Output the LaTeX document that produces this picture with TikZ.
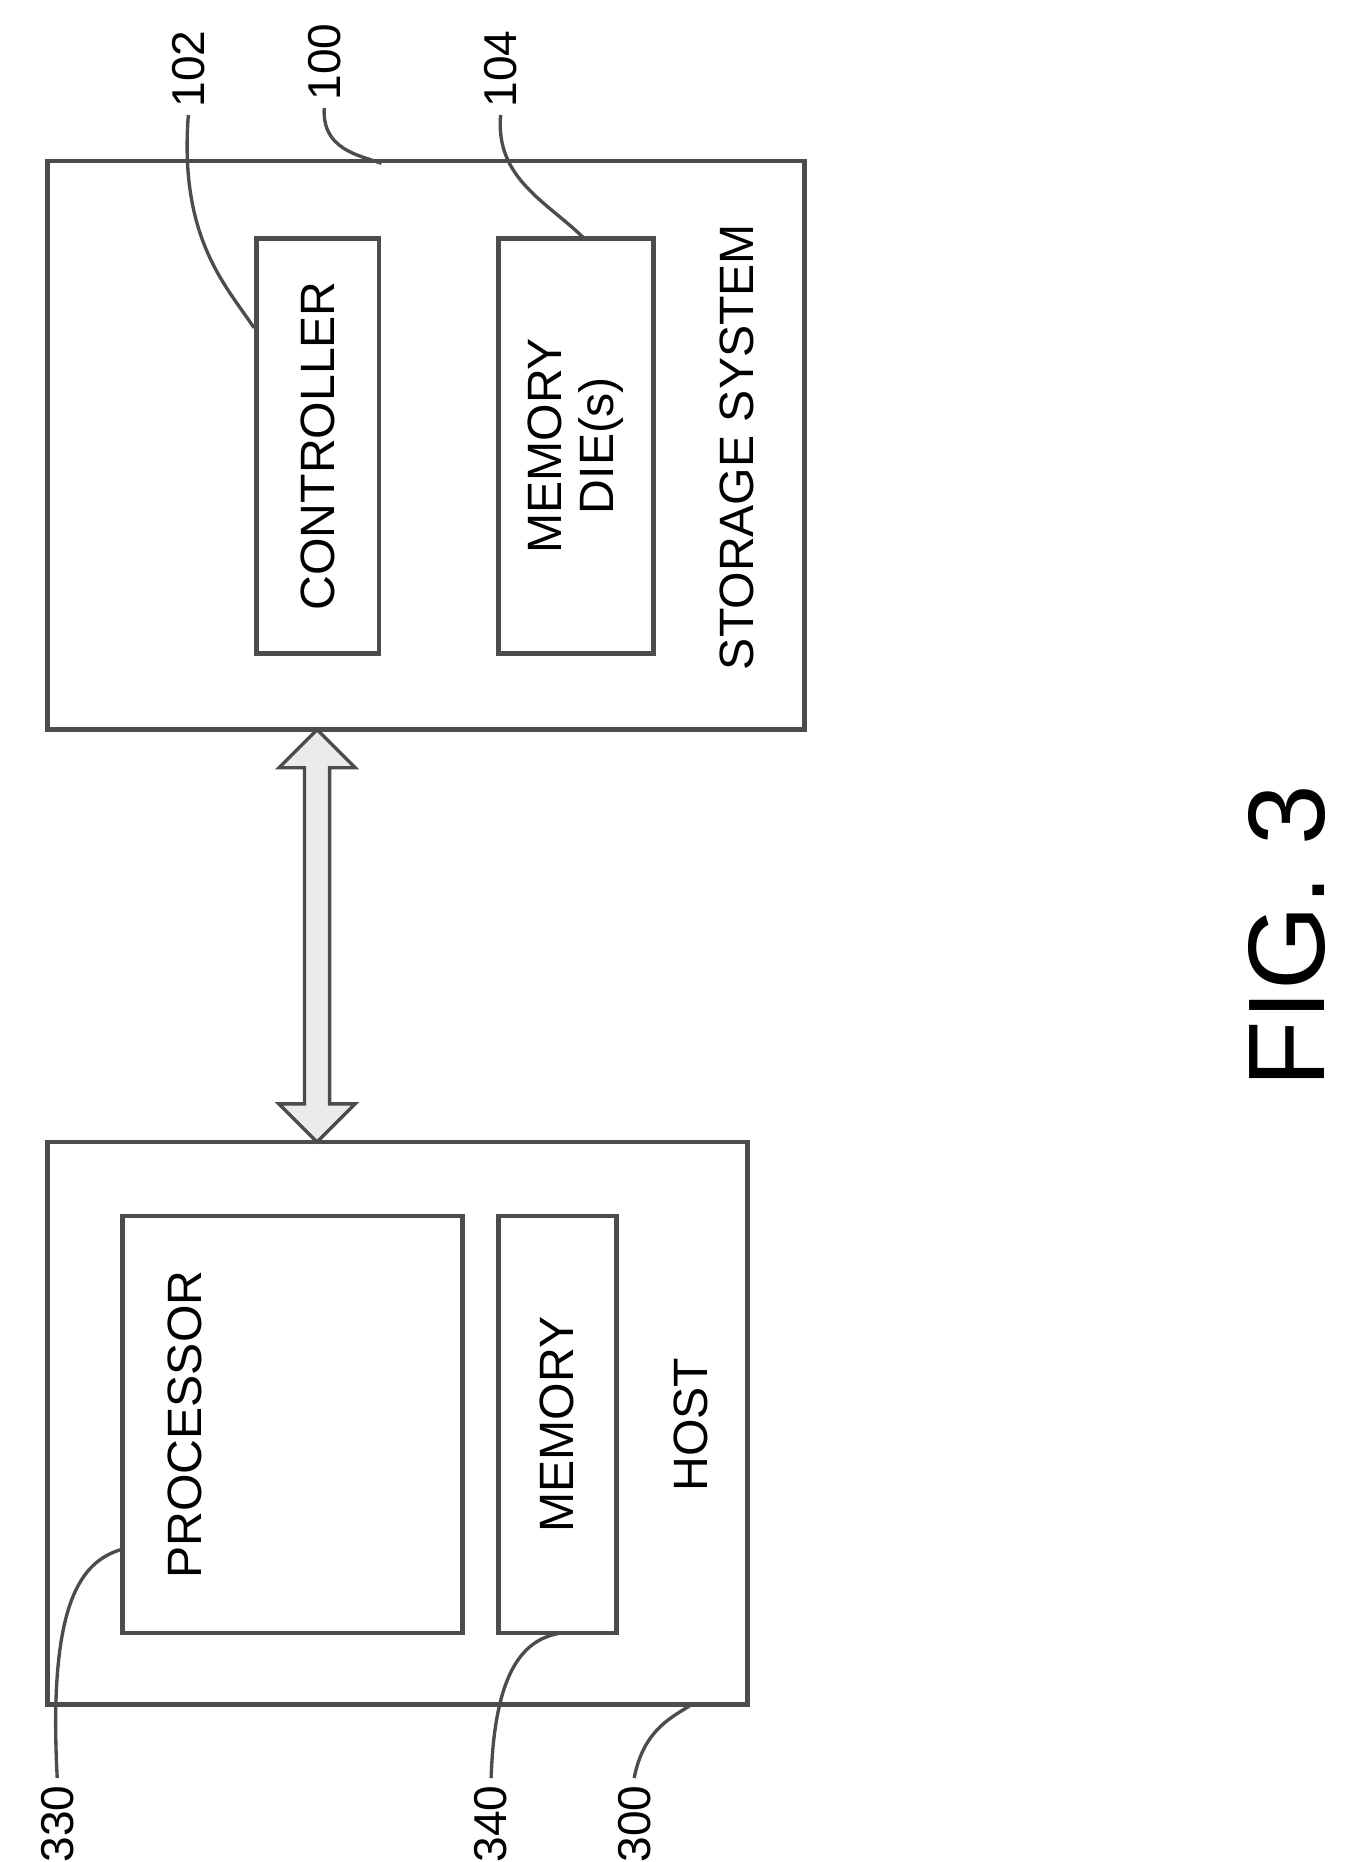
\documentclass[tikz,border=0pt]{standalone}
\usepackage{fontspec}
\setmainfont{Liberation Sans}
\usetikzlibrary{arrows.meta,positioning,shapes.arrows}
\tikzstyle{blk} = [
  rectangle,
  draw=black!70,
  line width=2.2pt,
  inner sep=0pt,
]
\tikzstyle{txt} = [rotate=90, font=\fontsize{23}{25}\selectfont, align=center]
\tikzstyle{lbl} = [rotate=90, font=\fontsize{22}{24}\selectfont]
\tikzstyle{lead} = [line width=1.6pt, black!70]

\begin{document}
\begin{tikzpicture}[x=0.02cm,y=-0.02cm]
      \useasboundingbox (0,0) rectangle (1130,1562);

      % storage system
      \node[blk,minimum width=635*0.02cm,minimum height=477*0.02cm] (stor) at (357.5,373.5) {};
      \node[blk,minimum width=103*0.02cm,minimum height=348*0.02cm] (ctrl) at (266.5,374) {};
      \node[blk,minimum width=130*0.02cm,minimum height=348*0.02cm] (die)  at (483,374) {};
      \node[txt] (ctrlt) at (ctrl) {CONTROLLER};
      \node[txt] (diet)  at (die)  {MEMORY\\DIE(s)};
      \node[txt] (stort) at (618,375) {STORAGE SYSTEM};

      % host
      \node[blk,minimum width=587*0.02cm,minimum height=472*0.02cm] (host) at (333.5,1194) {};
      \node[blk,minimum width=285*0.02cm,minimum height=350*0.02cm] (proc) at (245.5,1195) {};
      \node[blk,minimum width=99*0.02cm,minimum height=350*0.02cm]  (mem)  at (467.5,1195) {};
      \node[txt] (proct) at (155,1195) {PROCESSOR};
      \node[txt] (memt)  at (mem)      {MEMORY};
      \node[txt] (hostt) at (580,1195) {HOST};

      % bus
      \node[double arrow, draw=black!70, fill=black!8, line width=1.6pt,
            minimum width=64*0.02cm, double arrow head extend=0.2cm,
            minimum height=346*0.02cm, inner sep=2pt, shape border rotate=90] (bus) at (266,785) {};

      % labels
      \node[lbl] (l102) at (158,58) {102};
      \node[lbl] (l100) at (272,52) {100};
      \node[lbl] (l104) at (420,58) {104};
      \node[lbl] (l330) at (48,1530) {330};
      \node[lbl] (l340) at (412,1530) {340};
      \node[lbl] (l300) at (532,1530) {300};

      \draw[lead] (l102.west) .. controls (150,200) and (190,240) .. (ctrl.west |- 0,275);
      \draw[lead] (l100.west) .. controls (270,125) and (300,130) .. (320,137);
      \draw[lead] (l104.west) .. controls (415,150) and (460,170) .. (490,200);
      \draw[lead] (l330.east) .. controls (40,1340) and (70,1310) .. (proc.west |- 0,1300);
      \draw[lead] (l340.east) .. controls (415,1400) and (440,1375) .. (470,1370);
      \draw[lead] (l300.east) .. controls (540,1450) and (565,1440) .. (580,1430);

      \node[rotate=90, font=\fontsize{52}{56}\selectfont] (fig) at (1080,785) {FIG. 3};
\end{tikzpicture}
\end{document}
